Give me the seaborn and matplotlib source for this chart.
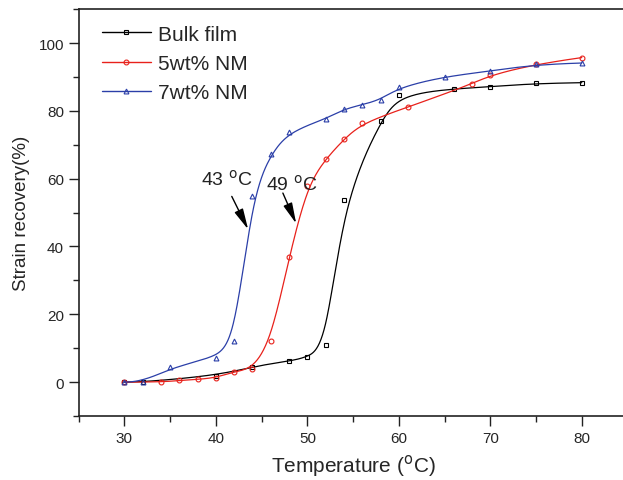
import numpy as np
import pandas as pd
import matplotlib
matplotlib.use("Agg")
import matplotlib.pyplot as plt
import seaborn as sns
from matplotlib.lines import Line2D
from matplotlib.ticker import MultipleLocator

# --- data ---
bulk_t = [30, 32, 40, 44, 48, 50, 52, 54, 58, 60, 66, 70, 75, 80]
bulk_r = [0, 0, 1.8, 4.6, 6.2, 7.3, 10.8, 53.8, 76.9, 84.7, 86.5, 87.1, 88.1, 88.3]

nm5_t = [30, 34, 36, 38, 40, 42, 44, 46, 48, 50, 52, 54, 56, 61, 68, 70, 75, 80]
nm5_r = [0, 0, 0.5, 0.8, 1.3, 3.1, 3.9, 12.1, 36.8, 57.9, 65.8, 71.6, 76.4, 81.1, 87.9, 90.6, 93.8, 95.7]

nm7_t = [30, 32, 35, 40, 42, 44, 46, 48, 52, 54, 56, 58, 60, 65, 70, 75, 80]
nm7_r = [0, 0, 4.4, 7.2, 12.1, 55.0, 67.3, 73.8, 77.6, 80.5, 81.8, 83.3, 86.9, 90.1, 91.7, 93.7, 94.1]

labels = ["Bulk film", "5wt% NM", "7wt% NM"]
colors = ["black", "#e8211b", "#2b3fa8"]
markers = ["s", "o", "^"]


def bspline(xs, ys, n=400, k=3):
    # clamped uniform B-spline with the data points as control points
    P = np.column_stack([xs, ys]).astype(float)
    m = len(P)
    inner = np.linspace(0, 1, m - k + 1)
    knots = np.concatenate([np.zeros(k), inner, np.ones(k)])
    u = np.linspace(0, 1, n)
    u[-1] = 1 - 1e-12

    def basis(i, p, t):
        if p == 0:
            return ((knots[i] <= t) & (t < knots[i + 1])).astype(float)
        a = 0.0
        d1 = knots[i + p] - knots[i]
        if d1 > 0:
            a = (t - knots[i]) / d1 * basis(i, p - 1, t)
        b = 0.0
        d2 = knots[i + p + 1] - knots[i + 1]
        if d2 > 0:
            b = (knots[i + p + 1] - t) / d2 * basis(i + 1, p - 1, t)
        return a + b

    B = np.array([basis(i, k, u) for i in range(m)])
    C = B.T @ P
    return C[:, 0], C[:, 1]


sns.set_style("ticks")
plt.rcParams['font.family'] = ['Liberation Sans', 'DejaVu Sans']

fig = plt.figure(figsize=(6.23, 4.81), dpi=100)
ax = fig.add_axes([0.1263, 0.133, 0.881, 0.846])

series = [(bulk_t, bulk_r), (nm5_t, nm5_r), (nm7_t, nm7_r)]
for (t, r), lab, c, mk in zip(series, labels, colors, markers):
    cx, cy = bspline(t, r)
    curve = pd.DataFrame({"T": cx, "R": cy})
    sns.lineplot(data=curve, x="T", y="R", sort=False, color=c, lw=0.9, ax=ax, legend=False)
    ax.plot(t, r, ls="none", marker=mk, ms=3.5, mfc="none", mec=c, mew=0.8)

ax.set_xlim(25, 85)
ax.set_ylim(-10, 110)
ax.xaxis.set_major_locator(MultipleLocator(10))
ax.xaxis.set_minor_locator(MultipleLocator(5))
ax.yaxis.set_major_locator(MultipleLocator(20))
ax.yaxis.set_minor_locator(MultipleLocator(10))
ax.tick_params(axis="both", which="major", direction="out", length=7, width=1, labelsize=11, color="#222222")
ax.tick_params(axis="both", which="minor", direction="out", length=4, width=1, color="#222222")
for s in ax.spines.values():
    s.set_linewidth(1.2)
    s.set_color("#222222")

ax.set_xlabel("Temperature ($^{\\rm o}$C)", fontsize=15, labelpad=5)
ax.set_ylabel("Strain recovery(%)", fontsize=13.5, labelpad=6)

# annotations
ax.annotate("", xy=(43.66, 44.3), xytext=(41.6, 55.5),
            arrowprops=dict(arrowstyle="-|>,head_length=0.9,head_width=0.2", color="black", lw=1, mutation_scale=14))
ax.annotate("", xy=(48.9, 46.0), xytext=(47.2, 56.5),
            arrowprops=dict(arrowstyle="-|>,head_length=0.9,head_width=0.2", color="black", lw=1, mutation_scale=14))
ax.text(38.4, 59.9, "43 $^{\\rm o}$C", fontsize=14, va="center", ha="left", color="#222222")
ax.text(45.5, 58.6, "49 $^{\\rm o}$C", fontsize=14, va="center", ha="left", color="#222222")

handles = [Line2D([], [], color=c, lw=1, marker=mk, ms=3.5, mfc="none", mec=c, mew=0.8)
           for c, mk in zip(colors, markers)]
ax.legend(handles, labels, loc="upper left", frameon=False, fontsize=15,
          bbox_to_anchor=(0.008, 1.008), handlelength=2.35, handletextpad=0.35, labelspacing=0.5)

fig.savefig("out.png", dpi=100)
